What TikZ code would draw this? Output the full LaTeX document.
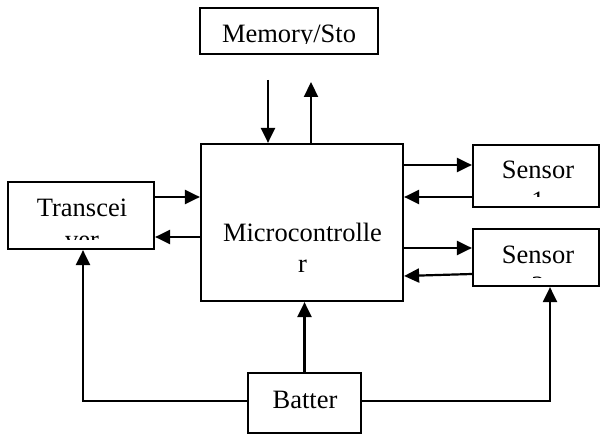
\documentclass[tikz,border=0pt]{standalone}
\usepackage{fontspec}
\setmainfont{Liberation Serif}
\usetikzlibrary{arrows.meta}
\begin{document}
\begin{tikzpicture}[x=1pt,y=-1pt,
  box/.style={draw, line width=2.2pt, inner sep=0pt},
  lbl/.style={anchor=base, inner sep=0pt, font=\fontsize{26.5}{31}\selectfont},
  conn/.style={line width=2.2pt, -{Triangle[length=15pt,width=14pt]}},
  wire/.style={line width=2.2pt}]
\useasboundingbox (0,0) rectangle (601,435);

% boxes
\node[box, minimum width=178pt, minimum height=46pt] (mem) at (289,31) {};
\node[box, minimum width=202pt, minimum height=157pt] (micro) at (302,222.5) {};
\node[box, minimum width=146pt, minimum height=67pt] (trans) at (81,215.5) {};
\node[box, minimum width=126pt, minimum height=62pt] (s1) at (536,176) {};
\node[box, minimum width=126pt, minimum height=57pt] (s2) at (536,257.5) {};
\node[box, minimum width=113pt, minimum height=60pt] (bat) at (304.5,403) {};

% texts (clipped as in the reference)
\begin{scope}
  \clip (200,8) rectangle (378,44);
  \node[lbl] (memt) at (289,43) {Memory/Sto};
\end{scope}
\node[lbl] (microt1) at (302.5,241) {Microcontrolle};
\node[lbl] (microt2) at (302.5,272) {r};
\begin{scope}
  \clip (8,182) rectangle (154,240);
  \node[lbl] (transt1) at (82,217) {Transcei};
  \node[lbl] (transt2) at (82,248) {ver};
\end{scope}
\begin{scope}
  \clip (473,145) rectangle (599,197);
  \node[lbl] (s1t1) at (538,179) {Sensor};
  \node[lbl] (s1t2) at (538,210) {1};
\end{scope}
\begin{scope}
  \clip (473,229) rectangle (599,277);
  \node[lbl] (s2t1) at (538,263) {Sensor};
  \node[lbl] (s2t2) at (538,294) {2};
\end{scope}
\node[lbl] (batt) at (305,408) {Batter};

% memory arrows (free ends)
\coordinate (mdown) at (268,80);
\coordinate (mup) at (311,82);
\draw[conn] (mdown) -- ([xshift=-34pt]micro.north);
\draw[conn] ([xshift=9pt]micro.north) -- (mup);

% transceiver
\draw[conn] ([yshift=18.5pt]trans.east) -- ([yshift=25.5pt]micro.west);
\draw[conn] ([yshift=-14.5pt]micro.west) -- ([yshift=-21.5pt]trans.east);

% sensors
\draw[conn] ([yshift=57.5pt]micro.east) -- ([yshift=11pt]s1.west);
\draw[conn] ([yshift=-21pt]s1.west) -- ([yshift=25.5pt]micro.east);
\draw[conn] ([yshift=-25.5pt]micro.east) -- ([yshift=9.5pt]s2.west);
\draw[conn] ([yshift=-16.5pt]s2.west) -- ([yshift=-53.5pt]micro.east);

% battery
\draw[conn] (bat.north) -- (bat.north |- micro.south);
\draw[conn] ([yshift=2pt]bat.west) -| ([xshift=2pt]trans.south);
\draw[conn] ([yshift=2pt]bat.east) -| ([xshift=14pt]s2.south);
\end{tikzpicture}
\end{document}
